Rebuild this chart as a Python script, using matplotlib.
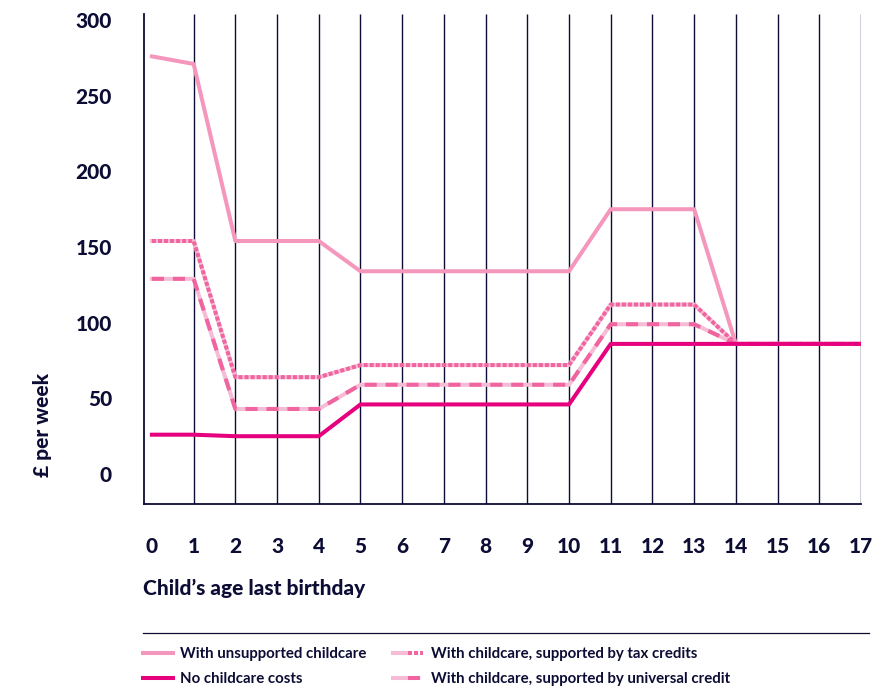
import matplotlib.pyplot as plt
from matplotlib.legend_handler import HandlerTuple

# Weekly cost by child's age last birthday
ages = list(range(0, 18))
unsupported = [276, 271, 154, 154, 154, 134, 134, 134, 134, 134, 134, 175, 175, 175, 86, 86, 86, 86]
tax_credits = [154, 154, 64, 64, 64, 72, 72, 72, 72, 72, 72, 112, 112, 112, 86, 86, 86, 86]
universal_credit = [129, 129, 43, 43, 43, 59, 59, 59, 59, 59, 59, 99, 99, 99, 86, 86, 86, 86]
no_childcare = [26, 26, 25, 25, 25, 46, 46, 46, 46, 46, 46, 86, 86, 86, 86, 86, 86, 86]
yticks = [0, 50, 100, 150, 200, 250, 300]

NAVY = '#0c0c35'
LIGHT = '#f597bd'
MAGENTA = '#e6007e'
MID = '#f0649f'
PALE = '#f7bcd5'

plt.rcParams['font.family'] = ['Lato', 'DejaVu Sans']

fig = plt.figure(figsize=(8.86, 6.93), dpi=100)
ax = fig.add_axes([144 / 886, 1 - 504 / 693, (861 - 144) / 886, (504 - 14) / 693])

lw = 2.9
l_uns, = ax.plot(ages, unsupported, color=LIGHT, lw=lw, zorder=3)
tb, = ax.plot(ages, tax_credits, color=PALE, lw=lw, zorder=3)
tt, = ax.plot(ages, tax_credits, color=MID, lw=lw, dashes=(1.0, 0.5), zorder=3)
ub, = ax.plot(ages, universal_credit, color=PALE, lw=lw, zorder=3)
ut, = ax.plot(ages, universal_credit, color=MID, lw=lw, dashes=(3.0, 2.2), zorder=3)
l_no, = ax.plot(ages, no_childcare, color=MAGENTA, lw=lw, zorder=4)

ax.set_xlim(-0.19, 17)
ax.set_ylim(-19.8, 304)
ax.set_xticks(ages)
ax.set_yticks(yticks)
# vertical rules at every age except 0
ax.vlines(ages[1:], -19.8, 304, color=NAVY, lw=1.0, zorder=1)
for s in ['top', 'right']:
    ax.spines[s].set_visible(False)
for s in ['left', 'bottom']:
    ax.spines[s].set_color(NAVY)
    ax.spines[s].set_linewidth(1.3)
ax.tick_params(length=0, colors=NAVY, labelsize=15)
ax.tick_params(axis='y', pad=23)
ax.tick_params(axis='x', pad=24)
for t in ax.get_xticklabels() + ax.get_yticklabels():
    t.set_fontweight('black')

fig.text(143 / 886, 1 - 588 / 693, 'Child\u2019s age last birthday', fontsize=15,
         fontweight='black', color=NAVY, va='center', ha='left')
fig.text(42 / 886, 1 - 425 / 693, '\u00a3 per week', fontsize=15, fontweight='black',
         color=NAVY, rotation=90, va='center', ha='center')

# separator above the key
fig.add_artist(plt.Line2D([143 / 886, 869 / 886], [1 - 633 / 693] * 2,
                          color=NAVY, lw=0.9, transform=fig.transFigure))

leg = fig.legend([l_uns, l_no, (tb, tt), (ub, ut)],
                 ['With unsupported childcare', 'No childcare costs',
                  'With childcare, supported by tax credits',
                  'With childcare, supported by universal credit'],
                 handler_map={tuple: HandlerTuple(ndivide=None)},
                 loc='upper left', bbox_to_anchor=(143 / 886, 1 - 647 / 693),
                 ncol=2, frameon=False, fontsize=10.8, handlelength=2.0,
                 handletextpad=0.5, columnspacing=1.75, labelspacing=0.75,
                 borderaxespad=0, borderpad=0)
for t in leg.get_texts():
    t.set_fontweight('bold')
    t.set_color(NAVY)

fig.savefig('out.png', dpi=100)
